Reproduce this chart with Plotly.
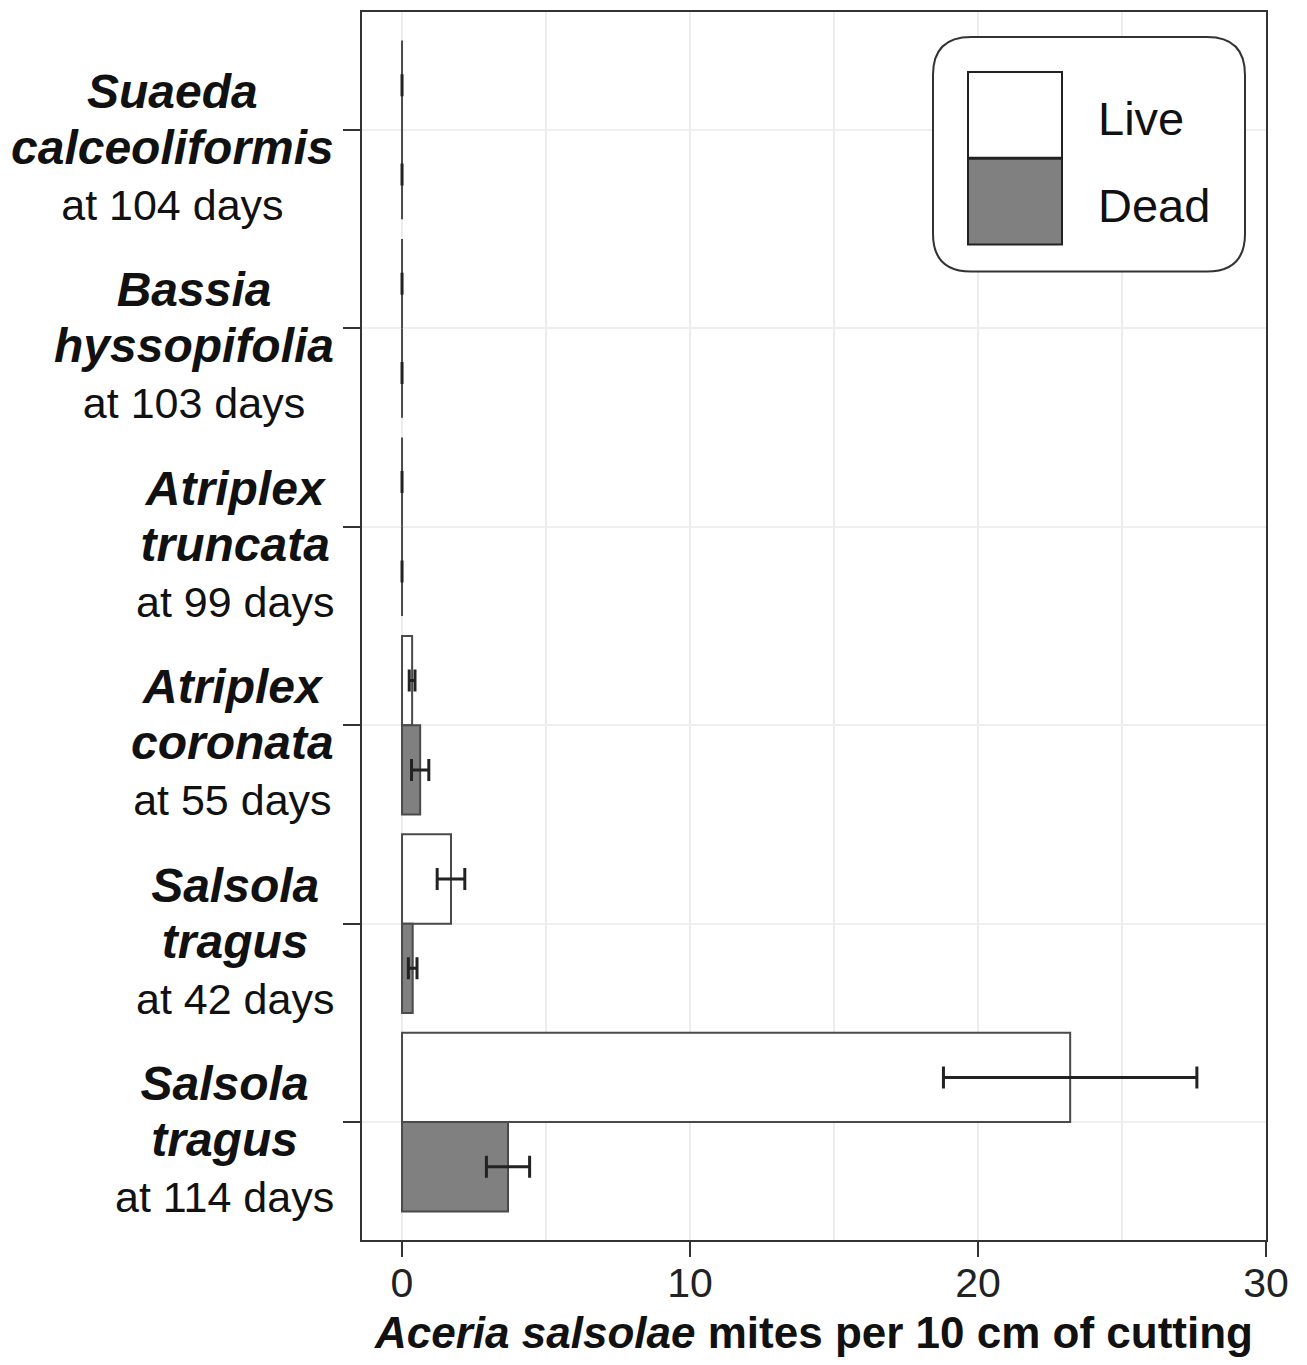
import plotly.graph_objects as go

# ---- data ----
genus = ["Suaeda", "Bassia", "Atriplex", "Atriplex", "Salsola", "Salsola"]
species = ["calceoliformis", "hyssopifolia", "truncata", "coronata", "tragus", "tragus"]
days = [104, 103, 99, 55, 42, 114]
live = [0, 0, 0, 0.35, 1.7, 23.2]
live_err = [0, 0, 0, 0.1, 0.48, 4.4]
dead = [0, 0, 0, 0.63, 0.37, 3.68]
dead_err = [0, 0, 0, 0.3, 0.15, 0.75]
series_names = ["Live", "Dead"]
series_fill = ["#ffffff", "#808080"]
x_ticks = [0, 10, 20, 30]

cats = [f"{g} {s} at {d} days" for g, s, d in zip(genus, species, days)]

OFF = 8  # page body margin
W, H = 1307 - 2 * OFF, 1365 - 2 * OFF
# plot area in page pixels: x 362..1266, y 10..1240
L, T = 362 - OFF, 10 - OFF
R = W - (1266 - OFF)
B = H - (1240 - OFF)
pw, ph = W - L - R, H - T - B


def px(x):
    return (x - OFF - L) / pw


def py(y):
    return (H - B - (y - OFF)) / ph


FONT = "Liberation Sans, Arial"

fig = go.Figure()
for name, vals, errs, fill in zip(series_names, [live, dead], [live_err, dead_err], series_fill):
    fig.add_trace(go.Bar(
        y=cats, x=vals, name=name, orientation="h",
        marker=dict(color=fill, line=dict(color="#4a4a4a", width=2)),
        error_x=dict(type="data", array=errs, visible=True, color="#222222",
                     thickness=3, width=11),
        showlegend=False,
    ))

# category labels (centered multi-line blocks)
for c, g, s, d in zip(cats, genus, species, days):
    fig.add_annotation(
        x=px(336), xref="paper", y=c, yref="y", xanchor="right", yanchor="middle",
        align="center", yshift=-17, showarrow=False,
        text=(f"<span style='font-size:48px'><b><i>{g}</i></b></span><br>"
              f"<span style='font-size:48px'><b><i>{s}</i></b></span><br>at {d} days"),
        font=dict(family=FONT, size=43, color="#111111"),
    )

# custom legend box
x0, x1, y0, y1, r = 933, 1245, 35, 270, 38
path = (f"M {px(x0+r)},{py(y0)} L {px(x1-r)},{py(y0)} Q {px(x1)},{py(y0)} {px(x1)},{py(y0+r)} "
        f"L {px(x1)},{py(y1-r)} Q {px(x1)},{py(y1)} {px(x1-r)},{py(y1)} "
        f"L {px(x0+r)},{py(y1)} Q {px(x0)},{py(y1)} {px(x0)},{py(y1-r)} "
        f"L {px(x0)},{py(y0+r)} Q {px(x0)},{py(y0)} {px(x0+r)},{py(y0)} Z")
fig.add_shape(type="path", path=path, xref="paper", yref="paper",
              line=dict(color="#333333", width=2), fillcolor="white")
sw_top = [70, 157]
sw_h = 86
for i, (name, fill) in enumerate(zip(series_names, series_fill)):
    ytop = sw_top[i]
    fig.add_shape(type="rect", xref="paper", yref="paper",
                  x0=px(968), x1=px(1062), y0=py(ytop + sw_h), y1=py(ytop),
                  line=dict(color="#222222", width=2), fillcolor=fill)
    fig.add_annotation(x=px(1096), y=py(ytop + sw_h / 2 + 4), xref="paper", yref="paper",
                       xanchor="left", yanchor="middle", showarrow=False, text=name,
                       font=dict(family=FONT, size=47, color="#111111"))

fig.update_layout(
    width=W, height=H,
    margin=dict(l=L, r=R, t=T, b=B),
    barmode="group", bargap=0.1, bargroupgap=0,
    plot_bgcolor="white", paper_bgcolor="white",
    font=dict(family=FONT, color="#111111"),
)
fig.update_xaxes(
    range=[-1.39, 30], tickvals=x_ticks, ticks="outside", ticklen=15, tickwidth=2,
    tickcolor="#333333", showline=True, linecolor="#333333", linewidth=2, mirror=True,
    showgrid=True, gridcolor="#ececec", gridwidth=2, zeroline=False,
    minor=dict(dtick=5, showgrid=True, gridcolor="#ececec", gridwidth=2),
    tickfont=dict(size=41, color="#222222"), ticklabelstandoff=-9,
    title=dict(text="<b><i>Aceria salsolae</i> mites per 10 cm of cutting</b>",
               font=dict(size=44, color="#111111"), standoff=16),
)
fig.update_yaxes(
    categoryorder="array", categoryarray=cats, range=[5.594, -0.594],
    ticks="outside", ticklen=17, tickwidth=2, tickcolor="#333333",
    showticklabels=False, showline=True, linecolor="#333333", linewidth=2, mirror=True,
    showgrid=True, gridcolor="#efefef", gridwidth=2, zeroline=False,
)

fig.write_html("out.html")
